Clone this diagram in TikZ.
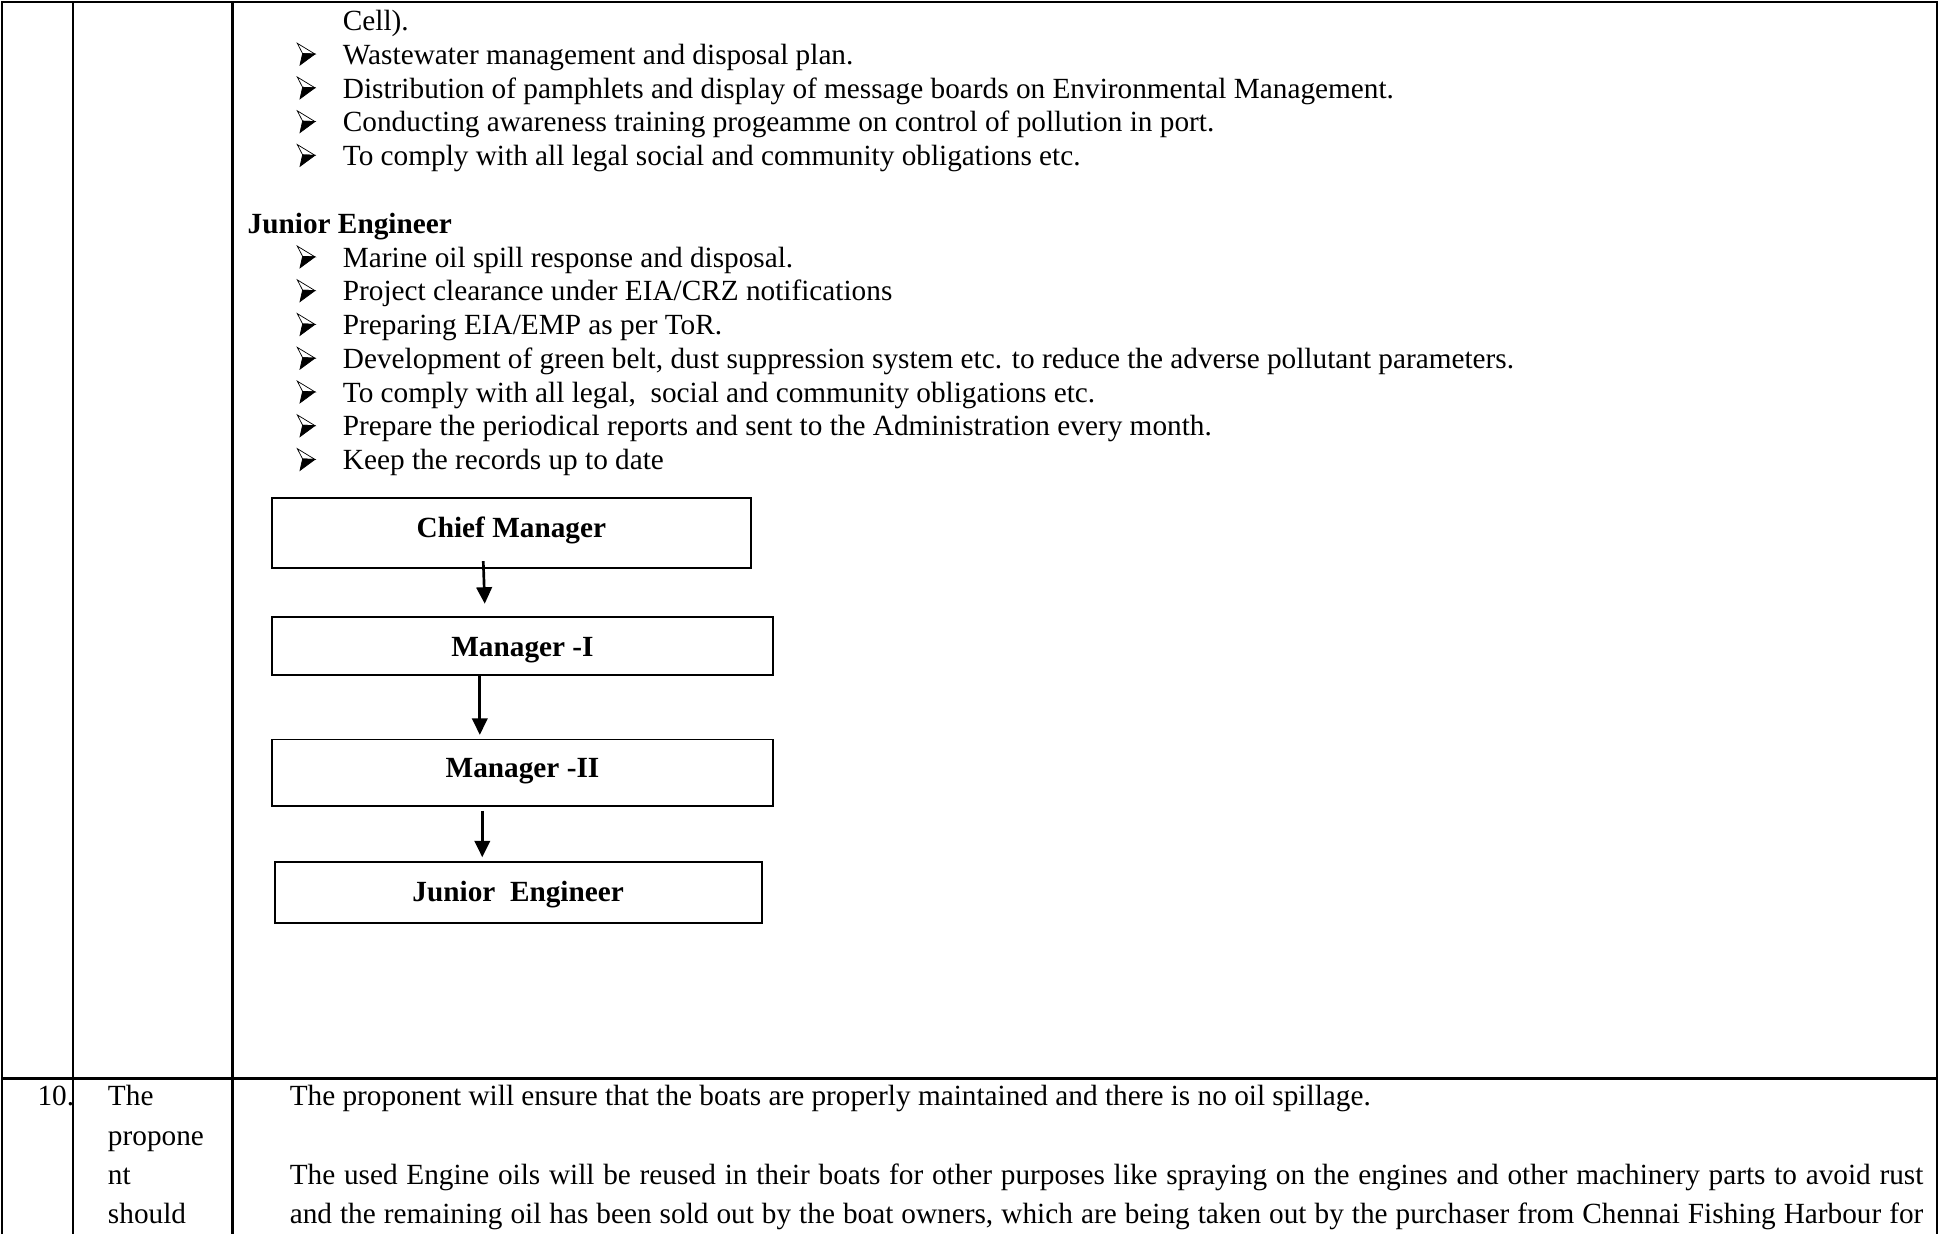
\documentclass[tikz,border=0pt]{standalone}
\usepackage{fontspec}
\setmainfont{Liberation Serif}
\usetikzlibrary{arrows.meta}

\begin{document}
\begin{tikzpicture}[x=0.6pt,y=-0.6pt,
  body/.style={anchor=base west,inner sep=0pt,font=\fontsize{14.2}{16.4}\selectfont},
  head/.style={body,font=\bfseries\fontsize{14.2}{16.4}\selectfont},
  orgbox/.style={draw,line width=0.95pt,inner sep=0pt,font=\bfseries\fontsize{14.2}{16.4}\selectfont},
  rule/.style={line width=1.25pt},
  link/.style={line width=1.3pt,-{Triangle[width=7.5pt,length=8pt]}},
  % three-d lighted arrowhead bullet, drawn with its tip at the origin
  pics/arrowbullet/.style={code={
    \filldraw[line width=0.35pt,fill=white,line join=miter] (0,0) -- (-14.3,-8.7) -- (-10,-0.4) -- cycle;
    \filldraw[line width=0.35pt,fill=black,line join=miter] (0,0) -- (-10,-0.4) -- (-12.1,8.9) -- cycle;
  }}]
\useasboundingbox (0,0) rectangle (1568,998);

% table frame and cell borders
\draw[rule,line join=miter] (1.5,998) -- (1.5,1.5) -- (1566.5,1.5) -- (1566.5,998);
\draw[rule] (59,1.5) -- (59,998);
\draw[rule] (188,1.5) -- (188,998);
\draw[rule] (1.5,872) -- (1566.5,872);

% duties continued from the previous page
\node[body] (c0) at (277,25) {Cell).};
\foreach \y in {52,79.3,106.6,133.9}{ \pic at (254.7,\y-8.3) {arrowbullet}; }
\node[body] (ct1) at (277,52) {Wastewater management and disposal plan.};
\node[body] (ct2) at (277,79.3) {Distribution of pamphlets and display of message boards on Environmental Management.};
\node[body] (ct3) at (277,106.6) {Conducting awareness training progeamme on control of pollution in port.};
\node[body] (ct4) at (277,133.9) {To comply with all legal social and community obligations etc.};

% Junior Engineer duties
\node[head] (jeh) at (200,189) {Junior Engineer};
\foreach \y in {216,243.3,270.6,297.9,325.2,352.5,379.8}{ \pic at (254.7,\y-8.3) {arrowbullet}; }
\node[body] (jt1) at (277,216) {Marine oil spill response and disposal.};
\node[body] (jt2) at (277,243.3) {Project clearance under EIA/CRZ notifications};
\node[body] (jt3) at (277,270.6) {Preparing EIA/EMP as per ToR.};
\node[body] (jt4) at (277,297.9) {Development of green belt, dust suppression system etc. to reduce the adverse pollutant parameters.};
\node[body] (jt5) at (277,325.2) {To comply with all legal,~ social and community obligations etc.};
\node[body] (jt6) at (277,352.5) {Prepare the periodical reports and sent to the Administration every month.};
\node[body] (jt7) at (277,379.8) {Keep the records up to date};

% organisation chart (labels set on a baseline below each box centre)
\node[orgbox,minimum width=387*0.6pt,minimum height=56*0.6pt] (cm) at (413.5,431) {\raisebox{-2.3pt}[0pt][0pt]{Chief Manager}};
\node[orgbox,minimum width=405*0.6pt,minimum height=47*0.6pt] (m1) at (422.5,522.5) {\raisebox{-5pt}[0pt][0pt]{Manager -I}};
\node[orgbox,minimum width=405*0.6pt,minimum height=54*0.6pt] (m2) at (422.5,625) {\raisebox{-2.3pt}[0pt][0pt]{Manager -II}};
\node[orgbox,minimum width=394*0.6pt,minimum height=49*0.6pt] (je) at (419,721.5) {\raisebox{-4.4pt}[0pt][0pt]{Junior~ Engineer}};

\draw[link] ([xshift=-22.7*0.6pt,yshift=6*0.6pt]cm.south) -- ([xshift=-30.5*0.6pt,yshift=10*0.6pt]m1.north);
\draw[link] ([xshift=-34.5*0.6pt]m1.south) -- ([xshift=-34.5*0.6pt,yshift=3*0.6pt]m2.north);
\draw[link] ([xshift=-32.5*0.6pt,yshift=-3*0.6pt]m2.south) -- ([xshift=-29*0.6pt,yshift=3*0.6pt]je.north);

% item 10
\node[body] (n10) at (30,894) {10.};
\node[body] (w1) at (87,894) {The};
\node[body] (w2) at (87,926) {propone};
\node[body] (w3) at (87,958) {nt};
\node[body] (w4) at (87,989) {should};
\node[body] (r1) at (234,894) {The proponent will ensure that the boats are properly maintained and there is no oil spillage.};
\node[body] (r2) at (234,958) {\makebox[792.6pt][s]{The used Engine oils will be reused in their boats for other purposes like spraying on the engines and other machinery parts to avoid rust}};
\node[body] (r3) at (234,989) {\makebox[792.6pt][s]{and the remaining oil has been sold out by the boat owners, which are being taken out by the purchaser from Chennai Fishing Harbour for}};
\end{tikzpicture}
\end{document}
